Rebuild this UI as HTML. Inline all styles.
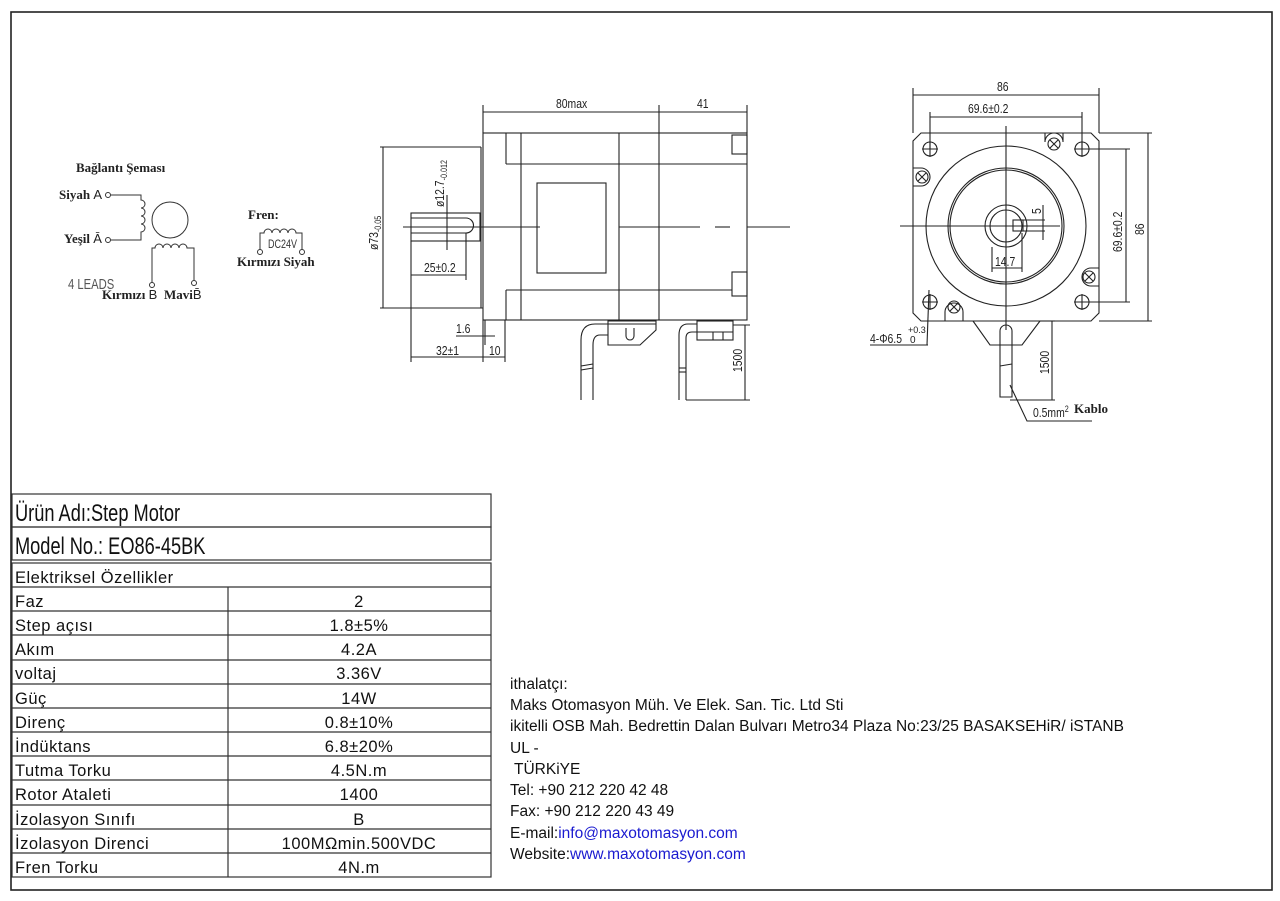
<!DOCTYPE html>
<html><head><meta charset="utf-8"><style>
html,body{margin:0;padding:0;background:#fff;}
svg{display:block}
.n{font-family:"Liberation Sans",sans-serif;}
</style></head><body>
<svg width="1280" height="901" viewBox="0 0 1280 901" xmlns="http://www.w3.org/2000/svg">
<rect x="11" y="12" width="1261" height="878" fill="none" stroke="#222" stroke-width="1.6"/>

<!-- Left schematic -->
<g font-family="Liberation Serif,serif" font-weight="bold" font-size="13" fill="#222">
<text x="76" y="172">Bağlantı Şeması</text>
<text x="59" y="199">Siyah <tspan font-weight="normal" font-family="Liberation Sans">A</tspan></text>
<text x="64" y="243">Yeşil <tspan font-weight="normal" font-family="Liberation Sans">Ā</tspan></text>
<text x="102" y="299">Kırmızı <tspan font-weight="normal" font-family="Liberation Sans">B</tspan></text>
<text x="164" y="299">Mavi<tspan font-weight="normal" font-family="Liberation Sans">B̄</tspan></text>
<text x="248" y="219">Fren:</text>
<text x="237" y="266">Kırmızı  Siyah</text>
</g>
<g fill="none" stroke="#333" stroke-width="1">
<circle cx="108" cy="195" r="2.5"/><circle cx="108" cy="240" r="2.5"/>
<path d="M111 195 H141 V200 a3 3 0 0 1 0 8 a3 3 0 0 1 0 8 a3 3 0 0 1 0 8 a3 3 0 0 1 0 8 V240 H111"/>
<circle cx="170" cy="220" r="18"/>
<path d="M152 283 V248 H155 a4 4 0 0 1 8 0 a4 4 0 0 1 8 0 a4 4 0 0 1 8 0 a4 4 0 0 1 8 0 H194 V280"/>
<circle cx="152" cy="285" r="2.5"/><circle cx="194" cy="283" r="2.5"/>
<path d="M260 250 V233 H264 a4 4 0 0 1 8 0 a4 4 0 0 1 8 0 a4 4 0 0 1 8 0 a4 4 0 0 1 8 0 H302 V250"/>
<circle cx="260" cy="252" r="2.5"/><circle cx="302" cy="252" r="2.5"/>
</g>
<text x="68" y="289" class="n" font-size="15" fill="#555" transform="translate(68 289) scale(0.75 1) translate(-68 -289)">4 LEADS</text>
<text x="268" y="248" class="n" font-size="12" fill="#333" transform="translate(268 248) scale(0.75 1) translate(-268 -248)">DC24V</text>

<!-- Side view -->
<g fill="none" stroke="#222" stroke-width="1.1">
<rect x="483" y="133" width="264" height="187"/>
<line x1="506" y1="133" x2="506" y2="164"/>
<line x1="506" y1="290" x2="506" y2="320"/>
<line x1="521" y1="133" x2="521" y2="320"/>
<line x1="619" y1="133" x2="619" y2="320"/>
<line x1="659" y1="133" x2="659" y2="320"/>
<line x1="506" y1="164" x2="747" y2="164"/>
<line x1="506" y1="290" x2="732" y2="290"/>
<rect x="732" y="135" width="15" height="19"/>
<rect x="732" y="272" width="15" height="24"/>
<rect x="537" y="183" width="69" height="90"/>
<rect x="411" y="213" width="69" height="28"/>
<path d="M411 218 H466 a7.5 7.5 0 0 1 0 15 H411"/>
<line x1="403" y1="227" x2="540" y2="227"/>
<line x1="619" y1="227" x2="700" y2="227"/>
<line x1="715" y1="227" x2="730" y2="227"/>
<line x1="747" y1="227" x2="790" y2="227"/>
<line x1="483" y1="105" x2="483" y2="133"/>
<line x1="659" y1="105" x2="659" y2="133"/>
<line x1="747" y1="105" x2="747" y2="133"/>
<line x1="483" y1="112" x2="747" y2="112"/>
<line x1="380" y1="147" x2="481" y2="147"/>
<line x1="380" y1="308" x2="483" y2="308"/>
<line x1="383" y1="147" x2="383" y2="308"/>
<line x1="481" y1="147" x2="481" y2="308"/>
<line x1="447" y1="195" x2="447" y2="250"/>
<line x1="411" y1="241" x2="411" y2="362"/>
<line x1="466" y1="233" x2="466" y2="280"/>
<line x1="411" y1="275" x2="466" y2="275"/>
<line x1="483" y1="320" x2="483" y2="362"/>
<line x1="485" y1="320" x2="485" y2="345"/>
<line x1="505" y1="320" x2="505" y2="362"/>
<line x1="411" y1="357" x2="505" y2="357"/>
<line x1="456" y1="336" x2="495" y2="336"/>
<path d="M608 321 H656 V330 L640 345 H608 Z"/>
<line x1="608" y1="324" x2="656" y2="324"/>
<path d="M626 328 V336 a4 4 0 0 0 8 0 V328"/>
<path d="M608 324 H595 Q581 324 581 340 V400 M608 335 H600 Q593 335 593 345 V400"/>
<line x1="581" y1="366" x2="593" y2="364"/>
<line x1="581" y1="370" x2="593" y2="368"/>
<rect x="697" y="321" width="36" height="19"/>
<line x1="697" y1="332" x2="733" y2="332"/>
<line x1="713" y1="332" x2="713" y2="340"/><line x1="723" y1="332" x2="723" y2="340"/>
<path d="M697 324 H688 Q679 324 679 335 V400 M697 332 H692 Q686 332 686 338 V400"/>
<line x1="679" y1="368" x2="686" y2="368"/><line x1="679" y1="372" x2="686" y2="372"/>
<line x1="733" y1="325" x2="750" y2="325"/>
<line x1="686" y1="400" x2="750" y2="400"/>
<line x1="745" y1="325" x2="745" y2="400"/>
</g>
<g class="n" fill="#222" font-size="13">
<text x="556" y="108" transform="translate(556 108) scale(0.8 1) translate(-556 -108)">80max</text>
<text x="697" y="108" transform="translate(697 108) scale(0.8 1) translate(-697 -108)">41</text>
<text x="424" y="272" transform="translate(424 272) scale(0.8 1) translate(-424 -272)">25±0.2</text>
<text x="436" y="355" transform="translate(436 355) scale(0.8 1) translate(-436 -355)">32±1</text>
<text x="489" y="355" transform="translate(489 355) scale(0.8 1) translate(-489 -355)">10</text>
<text x="456" y="333" transform="translate(456 333) scale(0.8 1) translate(-456 -333)">1.6</text>
<text transform="translate(378 250) rotate(-90) scale(0.8 1)">ø73<tspan font-size="9" dy="3">-0.05</tspan></text>
<text transform="translate(444 207) rotate(-90) scale(0.8 1)">ø12.7<tspan font-size="9" dy="3">-0.012</tspan></text>
<text transform="translate(742 372) rotate(-90) scale(0.8 1)">1500</text>
</g>

<!-- Front view -->
<g fill="none" stroke="#222" stroke-width="1.1">
<path d="M921 133 H1091 L1099 141 V313 L1091 321 H921 L913 313 V141 Z"/>
<circle cx="1006" cy="226" r="80"/>
<circle cx="1006" cy="226" r="58"/>
<circle cx="1006" cy="226" r="56"/>
<circle cx="1006" cy="226" r="21"/>
<circle cx="1006" cy="226" r="16"/>
<rect x="1013" y="220" width="10" height="11"/>
<line x1="900" y1="226" x2="1060" y2="226"/>
<line x1="1006" y1="126" x2="1006" y2="330"/>
<circle cx="930" cy="149" r="7"/><circle cx="1082" cy="149" r="7"/>
<circle cx="930" cy="302" r="7"/><circle cx="1082" cy="302" r="7"/>
<path d="M922 149 H938 M930 141 V157 M1074 149 H1090 M1082 141 V157 M922 302 H938 M930 294 V310 M1074 302 H1090 M1082 294 V310"/>
<circle cx="1054" cy="144" r="6"/><path d="M1050 140 L1058 148 M1058 140 L1050 148"/>
<circle cx="922" cy="177" r="6"/><path d="M918 173 L926 181 M926 173 L918 181"/>
<circle cx="1089" cy="277" r="6"/><path d="M1085 273 L1093 281 M1093 273 L1085 281"/>
<circle cx="954" cy="307" r="6"/><path d="M950 303 L958 311 M958 303 L950 311"/>
<path d="M1045 133 V142 a9 9 0 0 1 18 0 V133"/>
<path d="M913 168 H921 a9 9 0 0 1 0 18 H913"/>
<path d="M1099 268 H1091 a9 9 0 0 0 0 18 H1099"/>
<path d="M945 321 V312 a9 9 0 0 1 18 0 V321"/>
<path d="M973 321 L990 345 H1022 L1040 321"/>
<path d="M1000 397 V331 a6 6 0 0 1 12 0 V397 Z"/>
<line x1="1000" y1="366" x2="1012" y2="364"/>
<line x1="913" y1="88" x2="913" y2="133"/><line x1="1099" y1="88" x2="1099" y2="133"/>
<line x1="913" y1="95" x2="1099" y2="95"/>
<line x1="930" y1="112" x2="930" y2="149"/><line x1="1082" y1="112" x2="1082" y2="149"/>
<line x1="930" y1="117" x2="1082" y2="117"/>
<line x1="1082" y1="149" x2="1130" y2="149"/><line x1="1082" y1="302" x2="1130" y2="302"/>
<line x1="1126" y1="149" x2="1126" y2="302"/>
<line x1="1099" y1="133" x2="1152" y2="133"/><line x1="1099" y1="321" x2="1152" y2="321"/>
<line x1="1148" y1="133" x2="1148" y2="321"/>
<line x1="992" y1="247" x2="992" y2="272"/><line x1="1022" y1="233" x2="1022" y2="272"/>
<line x1="992" y1="268" x2="1022" y2="268"/>
<line x1="1020" y1="220" x2="1045" y2="220"/><line x1="1020" y1="231" x2="1045" y2="231"/>
<line x1="1043" y1="205" x2="1043" y2="240"/>
<line x1="929" y1="290" x2="927" y2="345"/><line x1="870" y1="345" x2="928" y2="345"/>
<line x1="1040" y1="321" x2="1055" y2="321"/><line x1="1010" y1="400" x2="1055" y2="400"/>
<line x1="1052" y1="321" x2="1052" y2="400"/>
<path d="M1010 385 L1027 421 H1092"/>
</g>
<g class="n" fill="#222" font-size="13">
<text x="997" y="91" transform="translate(997 91) scale(0.8 1) translate(-997 -91)">86</text>
<text x="968" y="113" transform="translate(968 113) scale(0.8 1) translate(-968 -113)">69.6±0.2</text>
<text x="995" y="266" transform="translate(995 266) scale(0.8 1) translate(-995 -266)">14.7</text>
<text transform="translate(1041 214) rotate(-90) scale(0.8 1)">5</text>
<text transform="translate(1122 252) rotate(-90) scale(0.8 1)">69.6±0.2</text>
<text transform="translate(1144 235) rotate(-90) scale(0.8 1)">86</text>
<text transform="translate(1049 374) rotate(-90) scale(0.8 1)">1500</text>
<text x="870" y="343" transform="translate(870 343) scale(0.8 1) translate(-870 -343)">4-Φ6.5</text>
<text x="908" y="333" font-size="9">+0.3</text><text x="910" y="343" font-size="10">0</text>
<text x="1033" y="417" transform="translate(1033 417) scale(0.8 1) translate(-1033 -417)">0.5mm<tspan font-size="9" dy="-5">2</tspan></text>
</g>
<text x="1074" y="413" font-family="Liberation Serif,serif" font-weight="bold" font-size="13" fill="#222">Kablo</text>

<!-- Table -->
<g fill="none" stroke="#333" stroke-width="1.2">
<rect x="12" y="494" width="479" height="33"/>
<rect x="12" y="527" width="479" height="33"/>
<rect x="12" y="563" width="479" height="314"/>
<line x1="228" y1="587" x2="228" y2="877"/>
<path d="M12 587H491 M12 611H491 M12 635H491 M12 660H491 M12 684H491 M12 708H491 M12 732H491 M12 756H491 M12 780H491 M12 805H491 M12 829H491 M12 853H491"/>
</g>
<g class="n" fill="#111">
<text x="15" y="521" font-size="24" transform="translate(15 521) scale(0.76 1) translate(-15 -521)">Ürün Adı:Step Motor</text>
<text x="15" y="554" font-size="24" transform="translate(15 554) scale(0.76 1) translate(-15 -554)">Model No.: EO86-45BK</text>
<g font-size="16.5" letter-spacing="0.5">
<text x="15" y="583">Elektriksel Özellikler</text>
<text x="15" y="607">Faz</text>
<text x="15" y="631">Step açısı</text>
<text x="15" y="655">Akım</text>
<text x="15" y="679">voltaj</text>
<text x="15" y="704">Güç</text>
<text x="15" y="728">Direnç</text>
<text x="15" y="752">İndüktans</text>
<text x="15" y="776">Tutma Torku</text>
<text x="15" y="800">Rotor Ataleti</text>
<text x="15" y="825">İzolasyon Sınıfı</text>
<text x="15" y="849">İzolasyon Direnci</text>
<text x="15" y="873">Fren Torku</text>
</g>
<g font-size="16.5" letter-spacing="0.5" text-anchor="middle">
<text x="359" y="607">2</text>
<text x="359" y="631">1.8±5%</text>
<text x="359" y="655">4.2A</text>
<text x="359" y="679">3.36V</text>
<text x="359" y="704">14W</text>
<text x="359" y="728">0.8±10%</text>
<text x="359" y="752">6.8±20%</text>
<text x="359" y="776">4.5N.m</text>
<text x="359" y="800">1400</text>
<text x="359" y="825">B</text>
<text x="359" y="849">100MΩmin.500VDC</text>
<text x="359" y="873">4N.m</text>
</g>
</g>

<!-- Info -->
<g class="n" font-size="15.5" fill="#111">
<text x="510" y="689">ithalatçı:</text>
<text x="510" y="710">Maks Otomasyon Müh. Ve Elek. San. Tic. Ltd Sti</text>
<text x="510" y="731">ikitelli OSB Mah. Bedrettin Dalan Bulvarı Metro34 Plaza No:23/25 BASAKSEHiR/ iSTANB</text>
<text x="510" y="753">UL -</text>
<text x="514" y="774">TÜRKiYE</text>
<text x="510" y="795">Tel: +90 212 220 42 48</text>
<text x="510" y="816">Fax: +90 212 220 43 49</text>
<text x="510" y="838">E-mail:<tspan fill="#1a1ad0">info@maxotomasyon.com</tspan></text>
<text x="510" y="859">Website:<tspan fill="#1a1ad0">www.maxotomasyon.com</tspan></text>
</g>
</svg>
</body></html>
